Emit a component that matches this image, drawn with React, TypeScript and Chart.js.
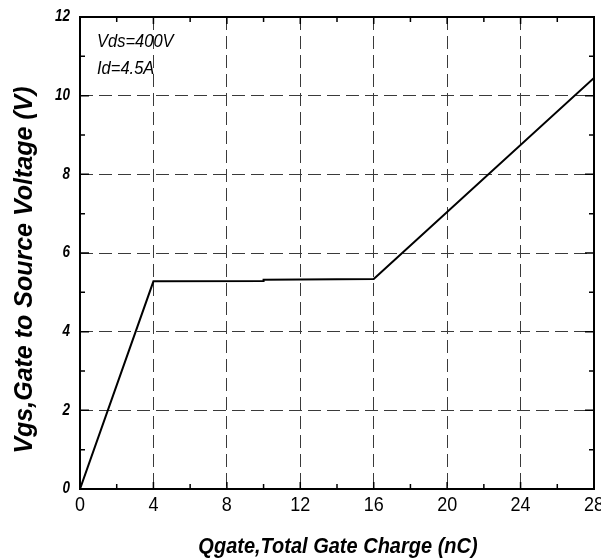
import React, { useEffect, useRef } from "react";
import { Chart, registerables } from "chart.js";

Chart.register(...registerables);

const chargeNC = [0, 4, 10, 10, 16, 28];
const vgsV = [0, 5.28, 5.29, 5.32, 5.34, 10.45];
const xTicks = [0, 4, 8, 12, 16, 20, 24, 28];
const yTicks = [0, 2, 4, 6, 8, 10, 12];
const annotations = ["Vds=400V", "Id=4.5A"];
const xTitle = "Qgate,Total Gate Charge (nC)";
const yTitle = "Vgs,Gate to Source Voltage (V)";

const FONT = "'Liberation Sans', Arial, sans-serif";

function stretchedText(ctx: CanvasRenderingContext2D, text: string, x: number, y: number, sy: number) {
  ctx.save();
  ctx.translate(x, y);
  ctx.scale(1, sy);
  ctx.fillText(text, 0, 0);
  ctx.restore();
}

const framePlugin = {
  id: "frame",
  afterDraw(chart: any) {
    const { ctx, chartArea: a, scales } = chart;
    const xs = scales.x;
    const ys = scales.y;
    ctx.save();
    ctx.setLineDash([]);
    ctx.strokeStyle = "#000";
    ctx.lineWidth = 2;
    ctx.strokeRect(a.left, a.top, a.right - a.left, a.bottom - a.top);
    ctx.lineWidth = 1.5;
    for (let v = 0; v <= 28; v += 2) {
      const px = xs.getPixelForValue(v);
      const len = v % 4 === 0 ? 7 : 5;
      ctx.beginPath();
      ctx.moveTo(px, a.bottom);
      ctx.lineTo(px, a.bottom - len);
      ctx.moveTo(px, a.top);
      ctx.lineTo(px, a.top + len);
      ctx.stroke();
    }
    for (let v = 0; v <= 12; v += 1) {
      const py = ys.getPixelForValue(v);
      const len = v % 2 === 0 ? 9 : 5;
      ctx.beginPath();
      ctx.moveTo(a.left, py);
      ctx.lineTo(a.left + len, py);
      ctx.moveTo(a.right, py);
      ctx.lineTo(a.right - len, py);
      ctx.stroke();
    }
    ctx.fillStyle = "#000";
    // x tick labels
    ctx.font = `18px ${FONT}`;
    ctx.textAlign = "center";
    ctx.textBaseline = "middle";
    for (const v of xTicks) {
      stretchedText(ctx, String(v), xs.getPixelForValue(v), 505, 1.12);
    }
    // y tick labels
    ctx.font = `italic bold 13.5px ${FONT}`;
    ctx.textAlign = "right";
    for (const v of yTicks) {
      stretchedText(ctx, String(v), 70, ys.getPixelForValue(v), 1.2);
    }
    // annotations
    ctx.font = `italic 16.5px ${FONT}`;
    ctx.textAlign = "left";
    stretchedText(ctx, annotations[0], 97, 42, 1.15);
    stretchedText(ctx, annotations[1], 97, 69, 1.15);
    // titles
    ctx.font = `bold italic 20px ${FONT}`;
    ctx.textAlign = "center";
    ctx.textBaseline = "alphabetic";
    stretchedText(ctx, xTitle, 338, 553, 1.12);
    ctx.translate(32, 270);
    ctx.rotate(-Math.PI / 2);
    ctx.font = `bold italic 25px ${FONT}`;
    ctx.fillText(yTitle, 0, 0);
    ctx.restore();
  },
};

export default function App() {
  const ref = useRef<HTMLCanvasElement>(null);
  useEffect(() => {
    document.body.style.margin = "0";
    const chart = new Chart(ref.current!, {
      type: "line",
      data: {
        datasets: [
          {
            data: chargeNC.map((x, i) => ({ x, y: vgsV[i] })),
            borderColor: "#000",
            borderWidth: 2,
            pointRadius: 0,
            tension: 0,
            fill: false,
          },
        ],
      },
      options: {
        animation: false,
        responsive: false,
        maintainAspectRatio: false,
        layout: { padding: { top: 17, right: 7, left: 0, bottom: 0 } },
        plugins: { legend: { display: false }, tooltip: { enabled: false } },
        scales: {
          x: {
            type: "linear",
            min: 0,
            max: 28,
            afterBuildTicks: (s: any) => {
              s.ticks = xTicks.map((v) => ({ value: v }));
            },
            afterFit: (s: any) => {
              s.height = 69;
              s.paddingLeft = 0;
              s.paddingRight = 0;
            },
            border: { display: false, dash: [13, 6] },
            grid: {
              color: (c: any) =>
                c.tick && (c.tick.value === 0 || c.tick.value === 28) ? "rgba(0,0,0,0)" : "#3a3a3a",
              lineWidth: 1,
              drawTicks: false,
            },
            ticks: { display: false },
          },
          y: {
            type: "linear",
            min: 0,
            max: 12,
            afterBuildTicks: (s: any) => {
              s.ticks = yTicks.map((v) => ({ value: v }));
            },
            afterFit: (s: any) => {
              s.width = 80;
              s.paddingTop = 0;
              s.paddingBottom = 0;
            },
            border: { display: false, dash: [13, 6] },
            grid: {
              color: (c: any) =>
                c.tick && (c.tick.value === 0 || c.tick.value === 12) ? "rgba(0,0,0,0)" : "#3a3a3a",
              lineWidth: 1,
              drawTicks: false,
            },
            ticks: { display: false },
          },
        },
      } as any,
      plugins: [framePlugin],
    });
    return () => chart.destroy();
  }, []);
  return (
    <div style={{ position: "absolute", left: 0, top: 0, width: 601, height: 558, background: "#fff" }}>
      <canvas ref={ref} width={601} height={558} style={{ width: 601, height: 558 }} />
    </div>
  );
}
